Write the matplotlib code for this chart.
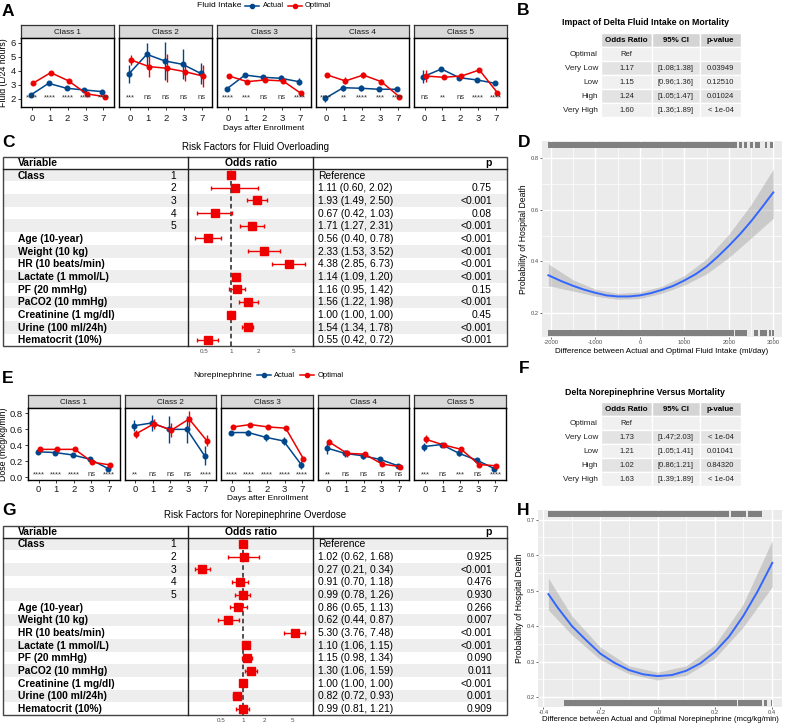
import matplotlib
matplotlib.use("Agg")
import matplotlib.pyplot as plt
import numpy as np
from matplotlib.patches import Rectangle
from matplotlib.ticker import NullLocator

plt.rcParams['font.family'] = ['Liberation Sans', 'DejaVu Sans']

# ------------------------------------------------------------------ data
days = ['0', '1', '2', '3', '7']
classes = ['Class 1', 'Class 2', 'Class 3', 'Class 4', 'Class 5']

# Panel A  (L/24 hours)
fluid_actual = [[2.28, 3.11, 2.76, 2.64, 2.52],
                [3.78, 5.17, 4.70, 4.46, 3.82],
                [2.73, 3.70, 3.54, 3.47, 3.23],
                [2.05, 2.80, 2.76, 2.69, 2.69],
                [3.59, 4.13, 3.51, 3.35, 3.11]]
fluid_actual_err = [[0.10, 0.06, 0.06, 0.06, 0.05],
                    [0.65, 0.83, 1.36, 1.07, 0.76],
                    [0.08, 0.10, 0.15, 0.20, 0.25],
                    [0.25, 0.20, 0.20, 0.10, 0.12],
                    [0.45, 0.15, 0.10, 0.08, 0.10]]
fluid_optimal = [[3.11, 3.87, 3.28, 2.36, 2.17],
                 [4.77, 4.30, 4.18, 3.94, 3.63],
                 [3.63, 3.23, 3.35, 3.28, 2.40],
                 [3.70, 3.28, 3.70, 3.23, 2.17],
                 [3.63, 3.54, 3.63, 4.06, 2.45]]
fluid_optimal_err = [[0.06, 0.05, 0.06, 0.06, 0.05],
                     [0.36, 0.77, 1.00, 0.65, 0.77],
                     [0.06, 0.12, 0.12, 0.18, 0.18],
                     [0.12, 0.25, 0.18, 0.18, 0.08],
                     [0.40, 0.15, 0.12, 0.15, 0.12]]
fluid_sig = [['****', '****', '****', '****', '****'],
             ['***', 'ns', 'ns', 'ns', 'ns'],
             ['****', '***', 'ns', 'ns', '****'],
             ['****', '**', '****', '***', '****'],
             ['ns', '**', 'ns', '****', '****']]

# Panel E  (mcg/kg/min)
ne_actual = [[0.32, 0.31, 0.28, 0.225, 0.11],
             [0.645, 0.68, 0.60, 0.60, 0.27],
             [0.56, 0.56, 0.50, 0.455, 0.16],
             [0.365, 0.30, 0.27, 0.225, 0.145],
             [0.385, 0.41, 0.30, 0.215, 0.11]]
ne_actual_err = [[0.03, 0.02, 0.02, 0.02, 0.02],
                 [0.07, 0.10, 0.17, 0.17, 0.12],
                 [0.02, 0.03, 0.04, 0.05, 0.05],
                 [0.07, 0.04, 0.04, 0.03, 0.02],
                 [0.05, 0.02, 0.03, 0.03, 0.02]]
ne_optimal = [[0.35, 0.35, 0.35, 0.19, 0.155],
              [0.545, 0.67, 0.59, 0.73, 0.46],
              [0.63, 0.66, 0.63, 0.615, 0.235],
              [0.44, 0.30, 0.29, 0.165, 0.135],
              [0.475, 0.405, 0.35, 0.16, 0.145]]
ne_optimal_err = [[0.02, 0.02, 0.02, 0.02, 0.02],
                  [0.05, 0.06, 0.09, 0.10, 0.07],
                  [0.02, 0.02, 0.03, 0.03, 0.02],
                  [0.04, 0.04, 0.03, 0.02, 0.02],
                  [0.05, 0.02, 0.03, 0.02, 0.02]]
ne_sig = [['****', '****', '****', 'ns', '****'],
          ['**', 'ns', 'ns', 'ns', '****'],
          ['****', '****', '****', '****', '****'],
          ['**', 'ns', 'ns', 'ns', 'ns'],
          ['***', 'ns', '***', 'ns', '****']]

# Tables B and F
tab_rows = ['Optimal', 'Very Low', 'Low', 'High', 'Very High']
tab_cols = ['Odds Ratio', '95% CI', 'p-value']
b_or = ['Ref', '1.17', '1.15', '1.24', '1.60']
b_ci = ['', '[1.08;1.38]', '[0.96;1.36]', '[1.05;1.47]', '[1.36;1.89]']
b_p = ['', '0.03949', '0.12510', '0.01024', '< 1e-04']
f_or = ['Ref', '1.73', '1.21', '1.02', '1.63']
f_ci = ['', '[1.47;2.03]', '[1.05;1.41]', '[0.86;1.21]', '[1.39;1.89]']
f_p = ['', '< 1e-04', '0.01041', '0.84320', '< 1e-04']

# Forest plots C and G
var_names = ['Class', '', '', '', '', 'Age (10-year)', 'Weight (10 kg)',
             'HR (10 beats/min)', 'Lactate (1 mmol/L)', 'PF (20 mmHg)',
             'PaCO2 (10 mmHg)', 'Creatinine (1 mg/dl)', 'Urine (100 ml/24h)',
             'Hematocrit (10%)']
var_levels = ['1', '2', '3', '4', '5', '', '', '', '', '', '', '', '', '']
c_or = [1.00, 1.11, 1.93, 0.67, 1.71, 0.56, 2.33, 4.38, 1.14, 1.16, 1.56, 1.00, 1.54, 0.55]
c_lo = [None, 0.60, 1.49, 0.42, 1.27, 0.40, 1.53, 2.85, 1.09, 0.95, 1.22, 1.00, 1.34, 0.42]
c_hi = [None, 2.02, 2.50, 1.03, 2.31, 0.78, 3.52, 6.73, 1.20, 1.42, 1.98, 1.00, 1.78, 0.72]
c_p = ['', '0.75', '<0.001', '0.08', '<0.001', '<0.001', '<0.001', '<0.001',
       '<0.001', '0.15', '<0.001', '0.45', '<0.001', '<0.001']
g_or = [1.00, 1.02, 0.27, 0.91, 0.99, 0.86, 0.62, 5.30, 1.10, 1.15, 1.30, 1.00, 0.82, 0.99]
g_lo = [None, 0.62, 0.21, 0.70, 0.78, 0.65, 0.44, 3.76, 1.06, 0.98, 1.06, 1.00, 0.72, 0.81]
g_hi = [None, 1.68, 0.34, 1.18, 1.26, 1.13, 0.87, 7.48, 1.15, 1.34, 1.59, 1.00, 0.93, 1.21]
g_p = ['', '0.925', '<0.001', '0.476', '0.930', '0.266', '0.007', '<0.001',
       '<0.001', '0.090', '0.011', '<0.001', '0.001', '0.909']
forest_ticks = [0.5, 1, 2, 5]

# Panel D smooth curve (ml/day vs probability)
d_x = [-2060, -1750, -1500, -1250, -1000, -750, -500, -250, 0, 250, 500, 750,
       1000, 1250, 1500, 1750, 2000, 2250, 2500, 2750, 3000]
d_y = [0.346, 0.322, 0.305, 0.290, 0.278, 0.268, 0.264, 0.264, 0.268, 0.277,
       0.290, 0.305, 0.326, 0.350, 0.380, 0.418, 0.460, 0.505, 0.555, 0.610, 0.667]
d_band_x = [-2060, -1500, -1000, -500, 0, 500, 1000, 1500, 2000, 2500, 3000]
d_band_lo = [0.305, 0.285, 0.265, 0.253, 0.256, 0.277, 0.308, 0.352, 0.415, 0.490, 0.567]
d_band_hi = [0.390, 0.328, 0.292, 0.276, 0.281, 0.304, 0.345, 0.410, 0.505, 0.620, 0.757]
d_rug_top = [(-2060, 2182), (2220, 2295), (2347, 2407), (2467, 2542), (2595, 2707),
             (2820, 2857), (2917, 2985)]
d_rug_bot = [(-2060, 2107), (2145, 2407), (2557, 2647), (2692, 2857), (2895, 2947),
             (2970, 3022)]

# Panel H smooth curve (mcg/kg/min vs probability)
h_x = [-0.3825, -0.35, -0.3, -0.25, -0.2, -0.15, -0.1, -0.05, 0.0, 0.05, 0.1,
       0.15, 0.2, 0.25, 0.3, 0.35, 0.402]
h_y = [0.490, 0.452, 0.400, 0.360, 0.322, 0.296, 0.276, 0.264, 0.259, 0.262,
       0.274, 0.295, 0.327, 0.370, 0.428, 0.497, 0.578]
h_band_x = [-0.3825, -0.3, -0.2, -0.1, 0.0, 0.1, 0.2, 0.3, 0.402]
h_band_lo = [0.445, 0.375, 0.305, 0.265, 0.248, 0.261, 0.309, 0.397, 0.511]
h_band_hi = [0.535, 0.428, 0.340, 0.288, 0.270, 0.288, 0.346, 0.462, 0.642]
h_rug_top = [(-0.3825, 0.252), (0.257, 0.311), (0.316, 0.365)]
h_rug_bot = [(-0.329, 0.279), (0.283, 0.365), (0.374, 0.383), (0.396, 0.402)]

# ------------------------------------------------------------------ figure
W, H = 787, 725
fig = plt.figure(figsize=(W / 100, H / 100), dpi=100)
BLUE = '#00468B'
RED = '#ED0000'
FRED = '#EE0000'


def add_ax(x0, y0, x1, y1, **kw):
    return fig.add_axes([x0 / W, 1 - y1 / H, (x1 - x0) / W, (y1 - y0) / H], **kw)


# overlay axes in pixel coordinates for table decoration
pax = fig.add_axes([0, 0, 1, 1])
pax.set_xlim(0, W)
pax.set_ylim(H, 0)
pax.axis('off')


def ptext(x, y, s, **kw):
    pax.text(x, y, s, **kw)


def letter(x, y, s):
    ptext(x, y, s, fontsize=12.5, fontweight='bold', ha='left', va='top')


# ---------------- facet rows (A, E)
def facet_row(left, right, strip_top, strip_bot, panel_bot, ylim, yticks, yticklabels,
              act, act_err, opt, opt_err, sig, sig_y, ylabel, xlabel, xlabel_x, xlabel_y, xpad):
    gap = 5
    w = (right - left - gap * 4) / 5
    xpos = np.arange(1, 6)
    for k in range(5):
        x0 = left + k * (w + gap)
        x1 = x0 + w
        sax = add_ax(x0, strip_top, x1, strip_bot)
        sax.set_facecolor('#d9d9d9')
        sax.set_xticks([])
        sax.set_yticks([])
        for s in sax.spines.values():
            s.set_linewidth(0.9)
            s.set_color('#333333')
        sax.text(0.5, 0.45, classes[k], ha='center', va='center', fontsize=5.9,
                 color='#1a1a1a', transform=sax.transAxes)
        ax = add_ax(x0, strip_bot, x1, panel_bot)
        ax.errorbar(xpos - 0.06, act[k], yerr=act_err[k], color=BLUE, marker='o',
                    ms=3.3, lw=1.1, elinewidth=1.0, capsize=0)
        ax.errorbar(xpos + 0.06, opt[k], yerr=opt_err[k], color=RED, marker='o',
                    ms=3.3, lw=1.1, elinewidth=1.0, capsize=0)
        for i in range(5):
            ax.text(xpos[i], sig_y, sig[k][i], ha='center', va='baseline',
                    fontsize=5.6, color='#333333')
        ax.set_xlim(0.4, 5.6)
        ax.set_ylim(*ylim)
        ax.set_xticks(xpos)
        ax.set_xticklabels(days)
        if k == 0:
            ax.set_yticks(yticks)
            ax.set_yticklabels(yticklabels)
            ax.set_ylabel(ylabel, fontsize=6.3, labelpad=1.5)
        else:
            ax.set_yticks([])
        ax.tick_params(length=2.5, width=0.6, labelsize=6.8, pad=1.2, colors='#1a1a1a')
        ax.tick_params(axis='x', pad=xpad)
        for s in ax.spines.values():
            s.set_linewidth(1.0)
            s.set_color('black')
    ptext(xlabel_x, xlabel_y, xlabel, fontsize=6.0, ha='center', va='center')


def legend(y, title, xs):
    ptext(xs[0], y, title, fontsize=6.1, ha='left', va='center')
    for (kx, tx, col, lab) in [(xs[1], xs[2], BLUE, 'Actual'), (xs[3], xs[4], RED, 'Optimal')]:
        pax.plot([kx, kx + 14], [y, y], color=col, lw=1.1)
        pax.plot([kx + 7], [y], marker='o', ms=3.0, color=col)
        ptext(tx, y, lab, fontsize=5.4, ha='left', va='center')


letter(2, 4, 'A')
legend(5.5, 'Fluid Intake', [197, 245, 263, 288, 305])
facet_row(21, 507, 25, 38, 107, (1.43, 6.33), [2, 3, 4, 5, 6], ['2', '3', '4', '5', '6'],
          fluid_actual, fluid_actual_err, fluid_optimal, fluid_optimal_err,
          fluid_sig, 1.98, 'Fluid (L/24 hours)', 'Days after Enrollment', 264, 128, 2.8)

letter(2, 371, 'E')
legend(375, 'Norepinephrine', [193, 257, 274, 300, 318])
facet_row(28, 506, 395, 408, 480, (-0.033, 0.867), [0, 0.2, 0.4, 0.6, 0.8],
          ['0.0', '0.2', '0.4', '0.6', '0.8'],
          ne_actual, ne_actual_err, ne_optimal, ne_optimal_err,
          ne_sig, 0.018, 'Dose (mcg/kg/min)', 'Days after Enrollment', 268, 498, 1.0)


# ---------------- small tables (B, F)
def small_table(title, title_y, top, orv, civ, pv):
    ptext(645, title_y, title, fontsize=6.3, fontweight='bold', ha='center', va='center')
    cols = [(601, 652), (652, 700), (700, 741)]
    rh = 14
    for j, (a, b) in enumerate(cols):
        pax.add_patch(Rectangle((a, top), b - a, rh, facecolor='#d4d4d4',
                                edgecolor='white', lw=1.0))
        ptext((a + b) / 2, top + rh / 2, tab_cols[j], fontsize=5.7, fontweight='bold',
              ha='center', va='center')
    for i in range(5):
        y0 = top + rh * (i + 1)
        fc = '#f0f0f0' if i % 2 == 0 else '#e3e3e3'
        vals = [orv[i], civ[i], pv[i]]
        for j, (a, b) in enumerate(cols):
            pax.add_patch(Rectangle((a, y0), b - a, rh, facecolor=fc,
                                    edgecolor='white', lw=1.0))
            ptext((a + b) / 2, y0 + rh / 2, vals[j], fontsize=5.5, color='#222222',
                  ha='center', va='center')
        ptext(598, y0 + rh / 2, tab_rows[i], fontsize=5.9, color='#222222',
              ha='right', va='center')


letter(517, 3, 'B')
small_table('Impact of Delta Fluid Intake on Mortality', 22, 33, b_or, b_ci, b_p)
letter(519, 361, 'F')
small_table('Delta Norepinephrine Versus Mortality', 392, 402, f_or, f_ci, f_p)


# ---------------- forest tables (C, G)
def forest(title, title_y, top, hdr_bot, bot, orv, lo, hi, pv, xlim):
    ptext(255, title_y, title, fontsize=7.0, ha='center', va='center')
    rh = (bot - hdr_bot) / 14
    for i in range(14):
        if i % 2 == 0:
            pax.add_patch(Rectangle((3, hdr_bot + i * rh), 504, rh, facecolor='#eeeeee',
                                    edgecolor='none', zorder=0))
    pax.add_patch(Rectangle((3, top), 504, bot - top, facecolor='none',
                            edgecolor='#444444', lw=1.0, zorder=3))
    pax.plot([3, 507], [hdr_bot, hdr_bot], color='#222222', lw=1.0, zorder=3)
    for xv in (188, 313):
        pax.plot([xv, xv], [top, bot], color='#222222', lw=1.0, zorder=3)
    hy = (top + hdr_bot) / 2 + 0.5
    ptext(18, hy, 'Variable', fontsize=7.5, fontweight='bold', ha='left', va='center')
    ptext(251, hy, 'Odds ratio', fontsize=7.5, fontweight='bold', ha='center', va='center')
    ptext(492, hy, 'p', fontsize=7.5, fontweight='bold', ha='right', va='center')
    for i in range(14):
        yc = hdr_bot + (i + 0.5) * rh + 0.5
        if var_names[i]:
            ptext(18, yc, var_names[i], fontsize=7.4, fontweight='bold', ha='left', va='center')
        if var_levels[i]:
            ptext(176, yc, var_levels[i], fontsize=7.4, ha='right', va='center')
        if lo[i] is None:
            est = 'Reference'
        else:
            est = f'{orv[i]:.2f} ({lo[i]:.2f}, {hi[i]:.2f})'
        ptext(318, yc, est, fontsize=7.4, ha='left', va='center')
        ptext(492, yc, pv[i], fontsize=7.4, ha='right', va='center')
    fax = add_ax(188, hdr_bot, 313, bot)
    fax.patch.set_alpha(0)
    fax.set_xscale('log')
    fax.set_xlim(*xlim)
    fax.set_ylim(14, 0)
    fax.axvline(1, color='#222222', lw=1.1, ls=(0, (3, 2)), zorder=1)
    rows = np.arange(14) + 0.5
    for i in range(14):
        if lo[i] is not None and hi[i] > lo[i]:
            fax.errorbar([orv[i]], [rows[i]], xerr=[[orv[i] - lo[i]], [hi[i] - orv[i]]],
                         fmt='none', ecolor=FRED, elinewidth=1.0, capsize=1.6,
                         capthick=1.0, zorder=2)
    fax.plot(orv, rows, ls='none', marker='s', ms=6.2, color=FRED, zorder=3)
    fax.set_yticks([])
    fax.set_xticks(forest_ticks)
    fax.set_xticklabels(['0.5', '1', '2', '5'])
    fax.xaxis.set_minor_locator(NullLocator())
    fax.tick_params(axis='x', length=0, labelsize=4.5, colors='#4d4d4d', pad=2.2)
    for s in fax.spines.values():
        s.set_visible(False)


letter(2, 135, 'C')
forest('Risk Factors for Fluid Overloading', 147, 157, 168.7, 346.3,
       c_or, c_lo, c_hi, c_p, (0.332, 8.19))
letter(2, 503, 'G')
forest('Risk Factors for Norepinephrine Overdose', 515, 526, 537.5, 715.0,
       g_or, g_lo, g_hi, g_p, (0.1696, 9.57))


# ---------------- smooth panels (D, H)
def smooth_panel(box, xlim, ylim, xmaj, xmaj_lab, xmin, ymaj, ymaj_lab, ymin,
                 cx, cy, bx, blo, bhi, rtop, rbot, xlabel, xlabel_y, xlsize):
    ax = add_ax(*box)
    ax.set_facecolor('#ebebeb')
    for s in ax.spines.values():
        s.set_visible(False)
    ax.set_xlim(*xlim)
    ax.set_ylim(*ylim)
    for v in xmin:
        ax.axvline(v, color='white', lw=0.5, zorder=0)
    for v in ymin:
        ax.axhline(v, color='white', lw=0.5, zorder=0)
    for v in xmaj:
        ax.axvline(v, color='white', lw=1.0, zorder=0)
    for v in ymaj:
        ax.axhline(v, color='white', lw=1.0, zorder=0)
    ax.fill_between(bx, blo, bhi, color='#999999', alpha=0.4, lw=0, zorder=1)
    ax.plot(cx, cy, color='#3366FF', lw=1.4, zorder=2, solid_joinstyle='round')
    tr = ax.get_xaxis_transform()
    ax.broken_barh([(a, b - a) for a, b in rtop], (0.962, 0.034), transform=tr,
                   facecolor='#808080', edgecolor='none', zorder=3)
    ax.broken_barh([(a, b - a) for a, b in rbot], (0.004, 0.034), transform=tr,
                   facecolor='#808080', edgecolor='none', zorder=3)
    ax.set_xticks(xmaj)
    ax.set_xticklabels(xmaj_lab)
    ax.set_yticks(ymaj)
    ax.set_yticklabels(ymaj_lab)
    ax.xaxis.set_minor_locator(NullLocator())
    ax.yaxis.set_minor_locator(NullLocator())
    ax.tick_params(length=1.5, width=0.5, colors='#333333', labelsize=4.2, pad=0.8)
    ax.tick_params(labelcolor='#4d4d4d')
    ax.set_ylabel('Probability of Hospital Death', fontsize=6.2, labelpad=2)
    ptext((box[0] + box[2]) / 2, xlabel_y, xlabel, fontsize=xlsize, ha='center', va='center')
    return ax


letter(518, 135, 'D')
smooth_panel((542, 141, 782, 337), (-2203, 3196), (0.107, 0.866),
             [-2000, -1000, 0, 1000, 2000, 3000],
             ['-2000', '-1000', '0', '1000', '2000', '3000'],
             [-1500, -500, 500, 1500, 2500],
             [0.2, 0.4, 0.6, 0.8], ['0.2', '0.4', '0.6', '0.8'], [0.3, 0.5, 0.7],
             d_x, d_y, d_band_x, d_band_lo, d_band_hi, d_rug_top, d_rug_bot,
             'Difference between Actual and Optimal Fluid Intake (ml/day)', 351, 5.8)

letter(517, 503, 'H')
smooth_panel((538, 510, 782, 707), (-0.419, 0.436), (0.172, 0.727),
             [-0.4, -0.2, 0.0, 0.2, 0.4], ['-0.4', '-0.2', '0.0', '0.2', '0.4'],
             [-0.3, -0.1, 0.1, 0.3],
             [0.2, 0.3, 0.4, 0.5, 0.6, 0.7], ['0.2', '0.3', '0.4', '0.5', '0.6', '0.7'],
             [0.25, 0.35, 0.45, 0.55, 0.65],
             h_x, h_y, h_band_x, h_band_lo, h_band_hi, h_rug_top, h_rug_bot,
             'Difference between Actual and Optimal Norepinephrine (mcg/kg/min)', 719.5, 5.6)

fig.savefig('out.png', dpi=100)
